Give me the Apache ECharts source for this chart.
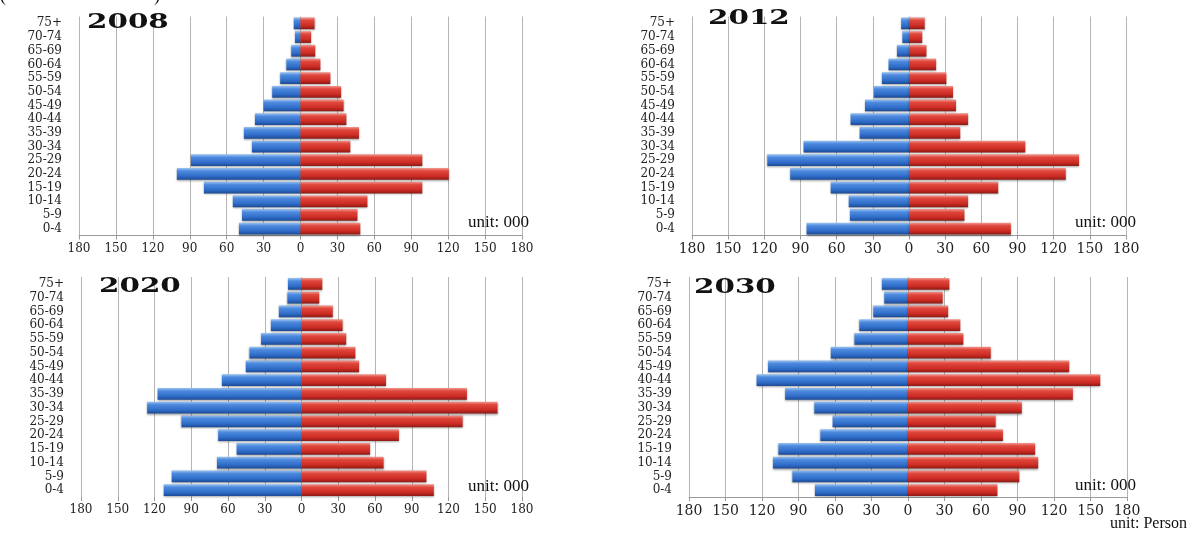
<!DOCTYPE html>
<html>
<head>
<meta charset="utf-8">
<script src="https://cdn.jsdelivr.net/npm/echarts@6/dist/echarts.min.js"></script>
<style>
  html, body { margin: 0; padding: 0; background: #ffffff; }
  #chart { width: 1190px; height: 534px; }
</style>
</head>
<body>
<div id="chart"></div>
<script>
// ---- data ----
const ages = ['0-4','5-9','10-14','15-19','20-24','25-29','30-34','35-39','40-44','45-49','50-54','55-59','60-64','65-69','70-74','75+'];
const years = ['2008', '2012', '2020', '2030'];
const xTicks = [-180, -150, -120, -90, -60, -30, 0, 30, 60, 90, 120, 150, 180];
const unitLabel = 'unit: 000';
const unitPerson = 'unit: Person';

const male2008   = [50, 47.5, 55, 78.5, 100.5, 89, 39.5, 46, 37, 30, 23, 16.5, 11.5, 7.5, 4.5, 5.5];
const female2008 = [48.6, 46.3, 54.4, 99, 120.5, 99, 40.5, 47.5, 37.3, 35, 33, 24.3, 16.2, 12, 8.6, 11.4];
const male2012   = [85, 49, 50, 65, 98.5, 117.5, 87.5, 41, 48.5, 36.5, 29, 22.5, 17, 10, 5.5, 6.5];
const female2012 = [84.5, 46, 49, 74, 130, 141, 96.5, 42.5, 49, 39, 36.5, 31, 22.5, 14.5, 11, 13];
const male2020   = [112.5, 106, 69, 53, 68, 98, 126, 117.5, 65, 45.5, 42.5, 33, 25, 18.5, 11.5, 11];
const female2020 = [108, 102, 67, 56, 79.5, 131.5, 160, 135, 69, 47, 44, 36.5, 33.5, 25.5, 14.5, 17];
const male2030   = [76.5, 95, 111, 106.5, 72, 62, 77, 101, 124.5, 115, 63.5, 44, 40, 28.5, 19.5, 21.5];
const female2030 = [73.5, 91.5, 107, 104.5, 78, 72, 93.5, 135.5, 158, 132.5, 68, 45.5, 43, 33, 28.5, 34];

const maleData = [male2008, male2012, male2020, male2030];
const femaleData = [female2008, female2012, female2020, female2030];

// ---- layout ----
const panels = [
  { left: 79,  top: 16.5, width: 443, height: 219, title: [87, 22.5],  unit: [468, 223], labelFont: 12, axisLine: true },
  { left: 692, top: 16.5, width: 434, height: 219, title: [708, 18.5], unit: [1075, 223], labelFont: 14, axisLine: true },
  { left: 81,  top: 277,  width: 441, height: 220, title: [99, 287],   unit: [468, 487], labelFont: 12, axisLine: false },
  { left: 689, top: 277,  width: 438, height: 220, title: [694, 288],  unit: [1075, 486], labelFont: 14, axisLine: true }
];

const blueGrad = new echarts.graphic.LinearGradient(0, 0, 0, 1, [
  { offset: 0, color: '#9cc4f2' },
  { offset: 0.25, color: '#4d8ade' },
  { offset: 0.7, color: '#2f6cc8' },
  { offset: 1, color: '#1c4a94' }
]);
const redGrad = new echarts.graphic.LinearGradient(0, 0, 0, 1, [
  { offset: 0, color: '#f29a92' },
  { offset: 0.25, color: '#e0473c' },
  { offset: 0.7, color: '#cc2b23' },
  { offset: 1, color: '#8c1a15' }
]);

const grid = [], xAxis = [], yAxis = [], series = [], graphic = [];

panels.forEach((p, i) => {
  grid.push({ left: p.left, top: p.top, width: p.width, height: p.height, containLabel: false });
  xAxis.push({
    type: 'value', gridIndex: i,
    min: xTicks[0], max: xTicks[xTicks.length - 1], interval: 30,
    axisLine: { show: p.axisLine, lineStyle: { color: '#9a9a9a', width: 1 } },
    axisTick: { show: true, length: 4, lineStyle: { color: '#9a9a9a' } },
    splitLine: { show: true, lineStyle: { color: '#b4b4b4', width: 1 } },
    axisLabel: {
      margin: 7,
      fontFamily: 'DejaVu Serif', fontSize: p.labelFont, color: '#222',
      formatter: v => String(Math.abs(v))
    }
  });
  yAxis.push({
    type: 'category', gridIndex: i, data: ages,
    axisLine: { show: false }, axisTick: { show: false },
    splitLine: { show: false },
    axisLabel: { interval: 0, margin: 17, fontFamily: 'DejaVu Serif', fontSize: 12, color: '#222' }
  });
  series.push({
    name: 'Male ' + years[i], type: 'bar', xAxisIndex: i, yAxisIndex: i,
    data: maleData[i].map(v => -v),
    barCategoryGap: '14%', barGap: '-100%',
    itemStyle: { color: blueGrad, shadowColor: 'rgba(0,0,0,0.35)', shadowBlur: 2, shadowOffsetY: 1 },
    silent: true
  });
  series.push({
    name: 'Female ' + years[i], type: 'bar', xAxisIndex: i, yAxisIndex: i,
    data: femaleData[i],
    barCategoryGap: '14%', barGap: '-100%',
    itemStyle: { color: redGrad, shadowColor: 'rgba(0,0,0,0.35)', shadowBlur: 2, shadowOffsetY: 1 },
    silent: true
  });
  graphic.push({
    type: 'text', x: p.title[0], y: p.title[1], scaleX: 1.4, originX: 0, originY: 0, z: 100,
    style: { text: years[i], font: 'bold 21px "DejaVu Serif"', fill: '#111', textAlign: 'left', textVerticalAlign: 'middle' }
  });
  graphic.push({
    type: 'text', x: p.unit[0], y: p.unit[1], z: 100,
    style: { text: unitLabel, font: '17px "Liberation Serif"', fill: '#111', textAlign: 'left', textVerticalAlign: 'middle' }
  });
});

graphic.push({
  type: 'text', x: 1187, y: 524, z: 100,
  style: { text: unitPerson, font: '16px "Liberation Serif"', fill: '#111', textAlign: 'right', textVerticalAlign: 'middle' }
});
graphic.push({
  type: 'text', x: 0, y: 5, z: 100,
  style: { text: '(', font: '18px "Liberation Serif"', fill: '#111', textAlign: 'left', textVerticalAlign: 'bottom' }
});
graphic.push({
  type: 'text', x: 154, y: 5, z: 100,
  style: { text: ')', font: '18px "Liberation Serif"', fill: '#111', textAlign: 'left', textVerticalAlign: 'bottom' }
});

const chart = echarts.init(document.getElementById('chart'), null, { renderer: 'canvas' });
chart.setOption({
  backgroundColor: '#ffffff',
  animation: false,
  grid, xAxis, yAxis, series, graphic
});
</script>
</body>
</html>
